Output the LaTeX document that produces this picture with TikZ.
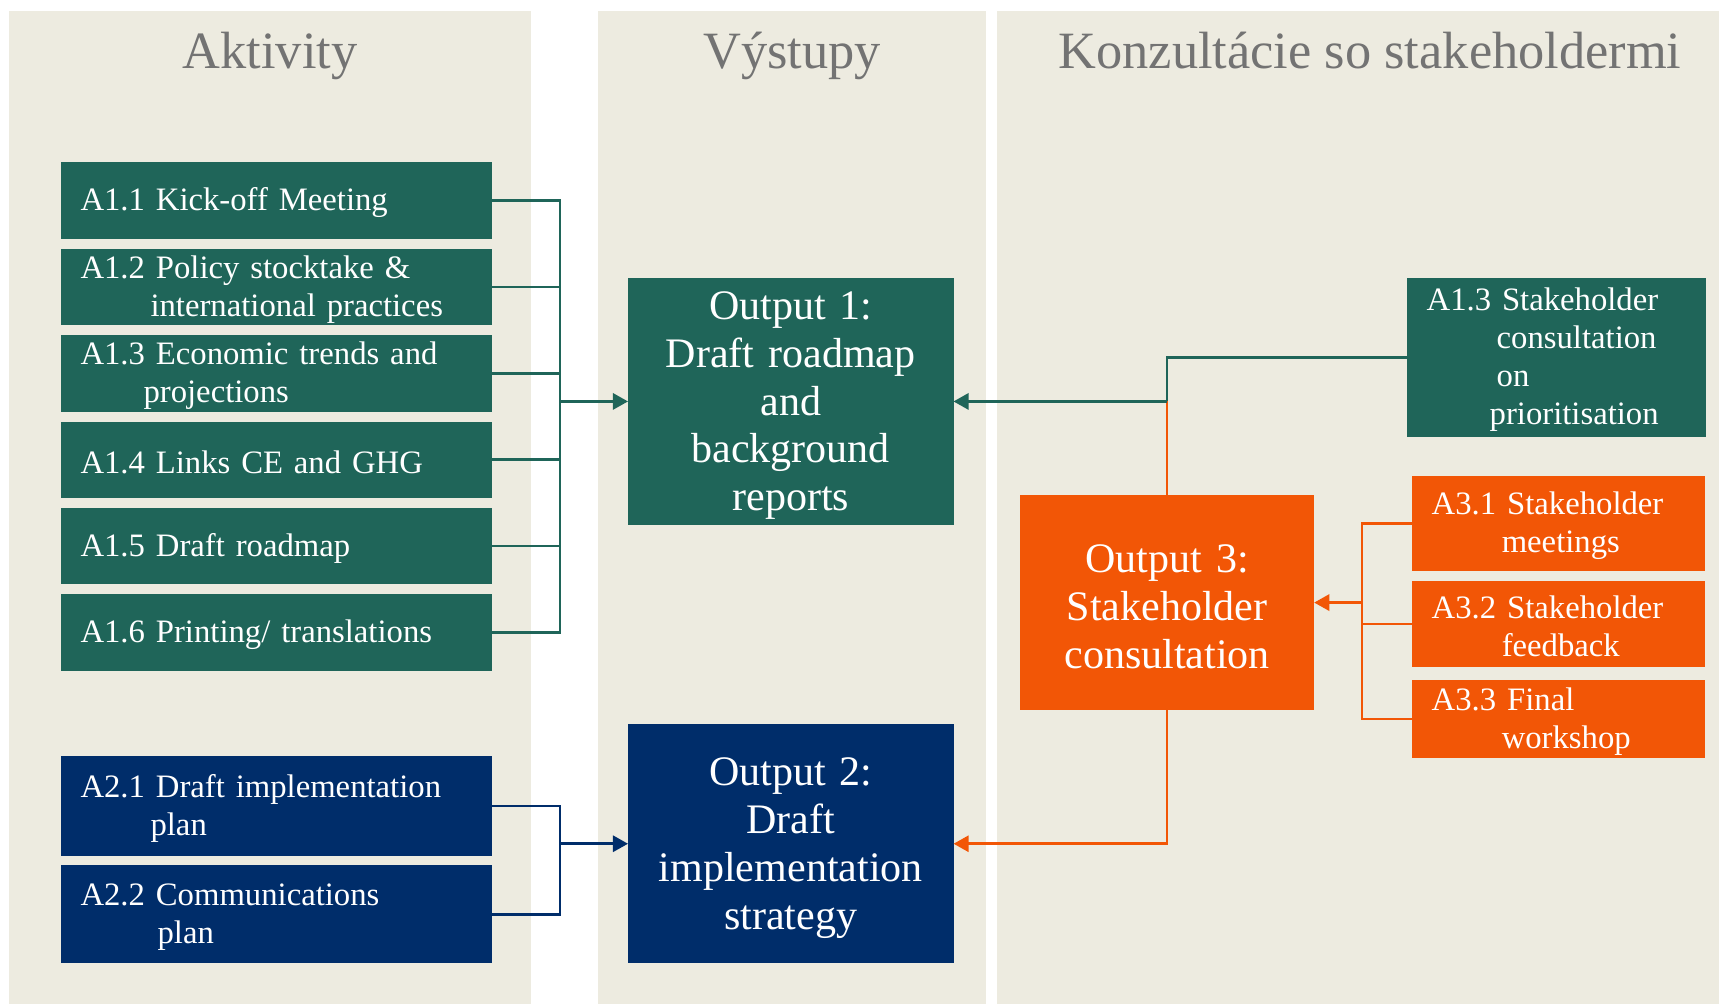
\documentclass[tikz,border=0pt]{standalone}
\usepackage{fontspec}
\setmainfont{Liberation Serif}
\usepackage{tikz}
\usetikzlibrary{arrows.meta}

\definecolor{tealBox}{HTML}{1F6559}
\definecolor{navyBox}{HTML}{002D6A}
\definecolor{orangeBox}{HTML}{F25606}
\definecolor{panelBg}{HTML}{EDEBE0}
\definecolor{titleGray}{HTML}{737373}

\begin{document}
\begin{tikzpicture}[%%
  x=0.01cm,y=-0.01cm,%%
  titleDecorate/.style={text=titleGray,anchor=base,inner sep=0pt,%%
    font=\fontsize{14.9pt}{17pt}\selectfont},%%
  boxDecorate/.style={anchor=north west,inner xsep=0.2cm,inner ysep=0pt,%%
    outer sep=0pt,text=white,align=left,%%
    font=\fontsize{9.3pt}{10.8pt}\selectfont,%%
    execute at begin node={\rule{0pt}{7.8pt}}},%%
  actTeal/.style={boxDecorate,fill=tealBox,text width=3.91cm,minimum height=0.764cm},%%
  actNavy/.style={boxDecorate,fill=navyBox,text width=3.91cm,minimum height=1cm},%%
  sideDecorate/.style={boxDecorate,fill=orangeBox,text width=2.535cm},%%
  outDecorate/.style={anchor=north west,inner sep=0pt,outer sep=0pt,%%
    text=white,align=center,font=\fontsize{11.95pt}{13.6pt}\selectfont,%%
    execute at begin node={\rule{0pt}{10.3pt}}},%%
  tealLine/.style={draw=tealBox,line width=0.75pt},%%
  navyLine/.style={draw=navyBox,line width=0.75pt},%%
  orangeLine/.style={draw=orangeBox,line width=0.75pt},%%
  tealArrow/.style={tealLine,-{Triangle[length=4.3pt,width=4.6pt]}},%%
  navyArrow/.style={navyLine,-{Triangle[length=4.3pt,width=4.6pt]}},%%
  orangeArrow/.style={orangeLine,-{Triangle[length=4.3pt,width=4.6pt]}}%%
]
\useasboundingbox (0,0) rectangle (1719,1005);
%%
%% Global variables.
\pgfmathsetmacro{\Xa}{60.5}
\pgfmathsetmacro{\Ya}{162.3}
\pgfmathsetmacro{\dy}{86.4}
\pgfmathsetmacro{\Xbus}{560}
\pgfmathsetmacro{\Xo}{628}
\pgfmathsetmacro{\Xs}{1411.7}
\pgfmathsetmacro{\Xc}{1362}
\pgfmathsetmacro{\Yt}{68}
%%
%% Background panels.
\fill[panelBg] (9,11) rectangle (530.5,1004);
\fill[panelBg] (598.3,11) rectangle (986,1004);
\fill[panelBg] (997,11) rectangle (1719,1004);
\node[titleDecorate] (tAkt) at (270,\Yt) {Aktivity};
\node[titleDecorate] (tVys) at (792,\Yt) {Výstupy};
\node[titleDecorate] (tKon) at (1370,\Yt) {Konzultácie so stakeholdermi};
%%
%% Activities A1.
\foreach \i/\txt in {%%
  1/{A1.1 Kick-off Meeting},%%
  2/{A1.2 Policy stocktake \&\\\hspace*{0.7cm}international practices},%%
  3/{A1.3 Economic trends and\\\hspace*{0.63cm}projections},%%
  4/{A1.4 Links CE and GHG},%%
  5/{A1.5 Draft roadmap},%%
  6/{A1.6 Printing/ translations}} {
  \node[actTeal] (a1\i) at (\Xa,{\Ya+(\i-1)*\dy}) {\txt};
}
%%
%% Activities A2.
\node[actNavy] (a21) at (\Xa,756) {A2.1 Draft implementation\\\hspace*{0.7cm}plan};
\node[actNavy,minimum height=0.98cm] (a22) at (\Xa,865.3)
  {A2.2 Communications\\\hspace*{0.77cm}plan};
%%
%% Outputs.
\node[outDecorate,fill=tealBox,text width=3.253cm,minimum height=2.473cm] (out1)
  at (\Xo,277.7) {Output 1:\\Draft roadmap\\and\\background\\reports};
\node[outDecorate,fill=navyBox,text width=3.254cm,minimum height=2.393cm] (out2)
  at (\Xo,724) {Output 2:\\Draft\\implementation\\strategy};
\node[outDecorate,fill=orangeBox,text width=2.94cm,minimum height=2.15cm] (out3)
  at (1020,495) {Output 3:\\Stakeholder\\consultation};
%%
%% Stakeholder activities.
\node[boxDecorate,fill=tealBox,text width=2.596cm,minimum height=1.596cm] (a13s)
  at (1406.6,277.7) {A1.3 Stakeholder\\\hspace*{0.7cm}consultation\\%%
  \hspace*{0.7cm}on\\\hspace*{0.63cm}prioritisation};
\node[sideDecorate,minimum height=0.953cm] (a31) at (\Xs,475.7)
  {A3.1 Stakeholder\\\hspace*{0.7cm}meetings};
\node[sideDecorate,minimum height=0.857cm] (a32) at (\Xs,581)
  {A3.2 Stakeholder\\\hspace*{0.7cm}feedback};
\node[sideDecorate,minimum height=0.78cm] (a33) at (\Xs,680)
  {A3.3 Final\\\hspace*{0.7cm}workshop};
%%
%% Connectors into Output 1.
\coordinate (busTop) at (\Xbus,0);
\coordinate (busA) at (busTop |- out1.west);
\foreach \i in {1,...,6} {
  \draw[tealLine] (a1\i.east) -| (busA);
}
\draw[tealArrow] (busA) -- (out1.west);
%%
%% Connectors into Output 2.
\coordinate (busB) at (busTop |- out2.west);
\draw[navyLine] (a21.east) -| (busB);
\draw[navyLine] (a22.east) -| (busB);
\draw[navyArrow] (busB) -- (out2.west);
%%
%% Connectors into Output 3.
\coordinate (busC) at (\Xc,0);
\coordinate (joinC) at (busC |- out3.east);
\foreach \i in {1,2,3} {
  \draw[orangeLine] (a3\i.west) -| (joinC);
}
\draw[orangeArrow] (joinC) -- (out3.east);
%%
%% Output 3 and stakeholder consultation back to Outputs 1 and 2.
\coordinate (joinA) at (out3.north |- out1.east);
\draw[orangeLine] (out3.north) -- (joinA);
\draw[tealLine] (a13s.west) -| (joinA);
\draw[tealArrow] (joinA) -- (out1.east);
\draw[orangeArrow] (out3.south) |- (out2.east);
\end{tikzpicture}
\end{document}
